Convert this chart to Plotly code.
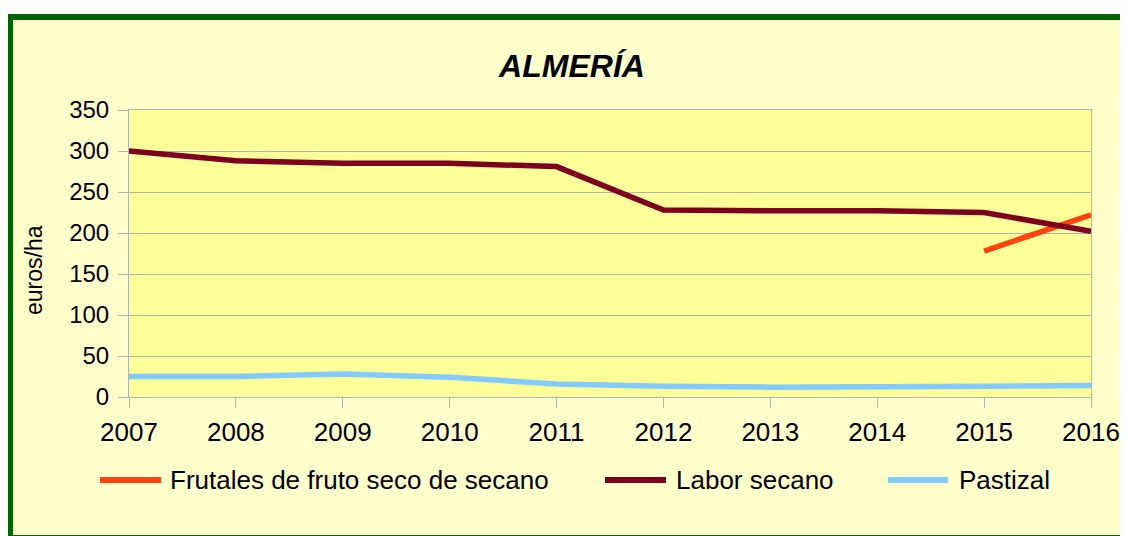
import plotly.graph_objects as go

years = [2007, 2008, 2009, 2010, 2011, 2012, 2013, 2014, 2015, 2016]
frutales_years = [2015, 2016]
frutales = [178, 222]
labor_secano = [300, 288, 285, 285, 281, 228, 227, 227, 225, 202]
pastizal = [25, 25, 28, 24, 16, 13, 12, 12, 13, 14]
y_ticks = [0, 50, 100, 150, 200, 250, 300, 350]

series_names = ["Frutales de fruto seco de secano", "Labor secano", "Pastizal"]
series_colors = ["#FF420E", "#7E0021", "#83CAFF"]

# page body has an 8px default margin; work in page pixels and convert
OFF = 8
W, H = 1120, 528
PL, PR, PT, PB = 129, 1091, 110, 397  # plot area in page pixels
L, T = PL - OFF, PT - OFF
R, B = W - (PR - OFF), H - (PB - OFF)
PW, PH = PR - PL, PB - PT


def px_x(px):
    return (px - PL) / PW


def px_y(py):
    return (PB - py) / PH


FONT = "Liberation Sans, Arial, sans-serif"

fig = go.Figure()
fig.add_trace(go.Scatter(x=frutales_years, y=frutales, mode="lines", name=series_names[0],
                         line=dict(color=series_colors[0], width=5.5), showlegend=False))
fig.add_trace(go.Scatter(x=years, y=labor_secano, mode="lines", name=series_names[1],
                         line=dict(color=series_colors[1], width=5.5), showlegend=False))
fig.add_trace(go.Scatter(x=years, y=pastizal, mode="lines", name=series_names[2],
                         line=dict(color=series_colors[2], width=5.5), showlegend=False))

shapes = [
    # outer frame
    dict(type="rect", xref="paper", yref="paper", layer="below",
         x0=px_x(10), x1=px_x(1160), y0=px_y(538), y1=px_y(17),
         fillcolor="#FFFFCC", line=dict(color="#006400", width=6)),
    # plot area
    dict(type="rect", xref="paper", yref="paper", layer="below",
         x0=0, x1=1, y0=0, y1=1, fillcolor="#FFFF99", line=dict(width=0)),
]

# manual legend
legend_y = px_y(480)
legend_items = [(100, 161, 168), (605, 666, 674), (888, 948, 957)]
annotations = []
for (x0, x1, xt), name, color in zip(legend_items, series_names, series_colors):
    shapes.append(dict(type="line", xref="paper", yref="paper", x0=px_x(x0), x1=px_x(x1),
                       y0=legend_y, y1=legend_y, line=dict(color=color, width=6)))
    annotations.append(dict(text=name, xref="paper", yref="paper", x=px_x(xt), y=legend_y,
                            xanchor="left", yanchor="middle", showarrow=False,
                            font=dict(family=FONT, size=26, color="#000000")))

annotations.append(dict(text="euros/ha", xref="paper", yref="paper", x=px_x(34), y=px_y(270),
                        textangle=-90, xanchor="center", yanchor="middle", showarrow=False,
                        font=dict(family=FONT, size=23, color="#000000")))

fig.update_layout(
    width=W, height=H,
    margin=dict(l=L, r=R, t=T, b=B, pad=0, autoexpand=False),
    paper_bgcolor="#FFFFFF",
    plot_bgcolor="rgba(0,0,0,0)",
    title=dict(text="<b><i>ALMERÍA</i></b>", xref="container", yref="container",
               x=(572 - OFF) / W, y=(H - (66 - OFF)) / H, xanchor="center", yanchor="middle",
               font=dict(family=FONT, size=32, color="#000000")),
    shapes=shapes,
    annotations=annotations,
    showlegend=False,
    xaxis=dict(range=[2007, 2016], tickvals=years, ticktext=[str(y) for y in years],
               showgrid=False, showline=True, linecolor="#B3B3B3", linewidth=1, mirror=True,
               ticks="outside", ticklen=10, tickcolor="#B3B3B3", tickwidth=1,
               tickfont=dict(family=FONT, size=26, color="#000000"), zeroline=False,
               ticklabelstandoff=2, automargin=False),
    yaxis=dict(range=[0, 350], tickvals=y_ticks, showgrid=True, gridcolor="#B3B3B3", gridwidth=1,
               showline=True, linecolor="#B3B3B3", linewidth=1, mirror=True,
               ticks="outside", ticklen=10, tickcolor="#B3B3B3", tickwidth=1,
               tickfont=dict(family=FONT, size=24, color="#000000"), zeroline=False,
               ticklabelstandoff=4, automargin=False),
)

fig.write_html("out.html")
